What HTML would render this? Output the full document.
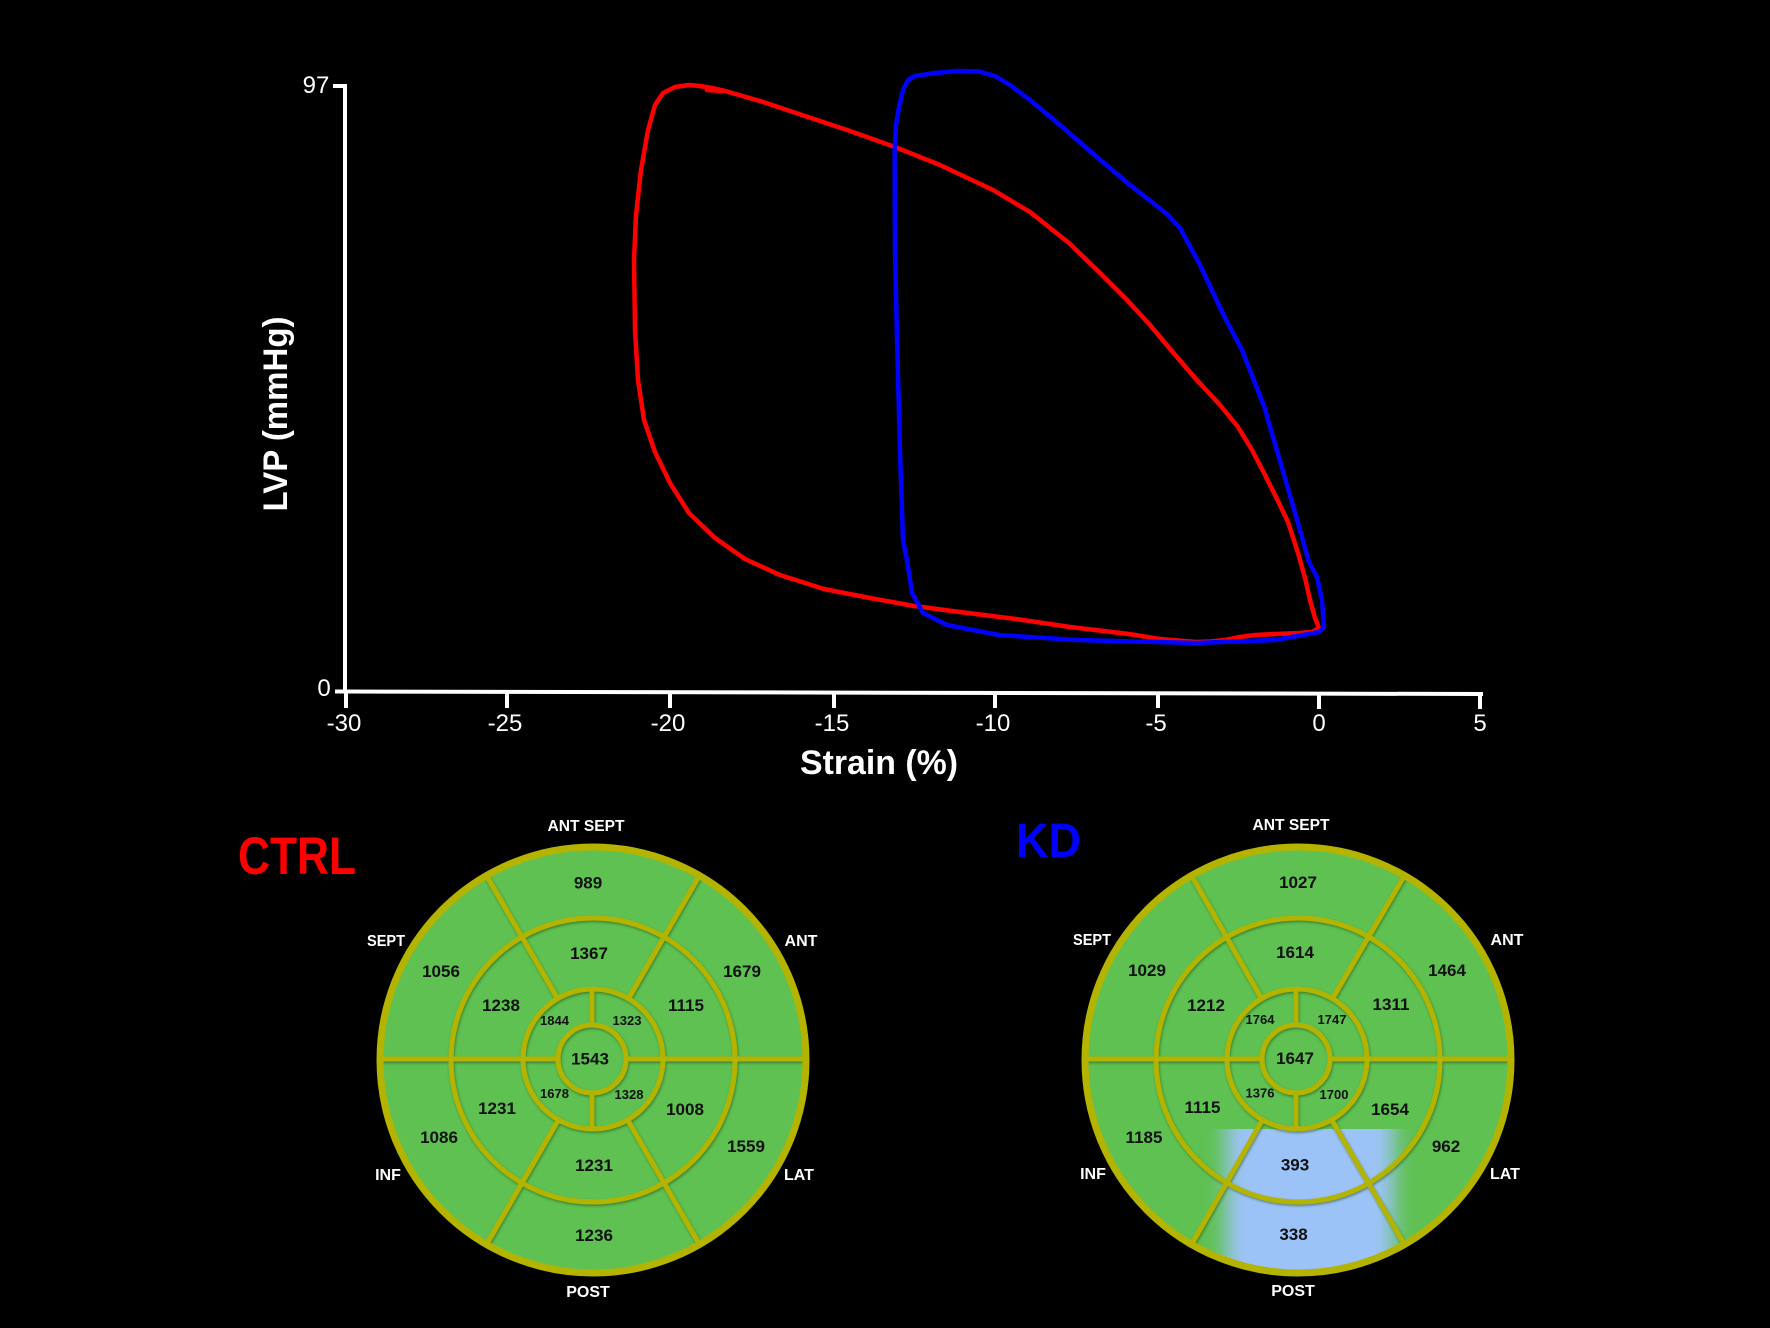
<!DOCTYPE html>
<html>
<head>
<meta charset="utf-8">
<style>
html,body{margin:0;padding:0;background:#000;}
svg{display:block;}
text{font-family:"Liberation Sans",sans-serif;}
</style>
</head>
<body>
<svg width="1770" height="1328" viewBox="0 0 1770 1328" xmlns="http://www.w3.org/2000/svg">
<defs>
  <filter id="blur" x="-30%" y="-30%" width="160%" height="160%">
    <feGaussianBlur stdDeviation="10"/>
  </filter>
  <filter id="sh" x="-5%" y="-5%" width="110%" height="110%">
    <feDropShadow dx="0.8" dy="1.5" stdDeviation="1.2" flood-color="#1d4a10" flood-opacity="0.55"/>
  </filter>
  <clipPath id="kdclip">
    <path d="M1060,1129 L1540,1129 L1540,1300 L1060,1300 Z"/>
  </clipPath>
  <clipPath id="kdcirc">
    <circle cx="1298" cy="1060" r="211"/>
  </clipPath>
</defs>
<rect width="1770" height="1328" fill="#000"/>

<!-- ===== Chart axes ===== -->
<g stroke="#fff" stroke-width="4" fill="none">
  <line x1="345" y1="84" x2="345" y2="693"/>
  <line x1="333" y1="86" x2="347" y2="86"/>
  <line x1="335" y1="691.5" x2="345" y2="691.5"/>
  <line x1="343" y1="691.5" x2="1483" y2="694"/>
  <line x1="346" y1="692" x2="346" y2="708"/>
  <line x1="507" y1="692" x2="507" y2="708"/>
  <line x1="670" y1="692.5" x2="670" y2="708"/>
  <line x1="834" y1="693" x2="834" y2="708"/>
  <line x1="995" y1="693" x2="995" y2="708"/>
  <line x1="1158" y1="693.5" x2="1158" y2="708"/>
  <line x1="1319" y1="694" x2="1319" y2="709"/>
  <line x1="1480" y1="694" x2="1480" y2="709"/>
</g>
<g fill="#fff" font-size="24" text-anchor="middle">
  <text x="316" y="93">97</text>
  <text x="324" y="696">0</text>
  <text x="344" y="731">-30</text>
  <text x="505" y="731">-25</text>
  <text x="668" y="731">-20</text>
  <text x="832" y="731">-15</text>
  <text x="993" y="731">-10</text>
  <text x="1156" y="731">-5</text>
  <text x="1319" y="731">0</text>
  <text x="1480" y="731">5</text>
</g>
<text x="879" y="774" fill="#fff" font-size="34" font-weight="bold" text-anchor="middle" textLength="158" lengthAdjust="spacingAndGlyphs">Strain (%)</text>
<text transform="translate(287,414) rotate(-90)" fill="#fff" font-size="34" font-weight="bold" text-anchor="middle" textLength="195" lengthAdjust="spacingAndGlyphs">LVP (mmHg)</text>

<!-- ===== Curves ===== -->
<path fill="none" stroke="#ff0000" stroke-width="4.5" stroke-linejoin="round" stroke-linecap="round"
 d="M689,85 L700,86 L712,88 L725,91 L760,101 L805,116 L850,131 L895,147 L940,165 L993,190 L1030,212 L1069,243 L1100,273 L1127,300 L1150,325 L1171,350 L1195,378 L1220,405 L1238,427 L1252,450 L1265,475 L1276,497 L1288,522 L1298,553 L1305,578 L1310,600 L1315,618 L1319,628 L1312,632 L1300,633 L1275,634 L1255,635 L1240,637 L1225,640 L1210,641.5 L1196,642 L1160,639 L1129,634 L1070,627 L1016,619 L960,612 L914,606 L870,598 L824,589 L780,575 L745,559 L715,538 L689,513 L670,483 L655,452 L644,420 L638,380 L635,330 L634,260 L636,215 L641,170 L648,130 L655,105 L663,93 L675,87 Z"/>
<path fill="none" stroke="#ff0000" stroke-width="4.5" stroke-linecap="round" d="M707,90 L722,91"/>
<path fill="none" stroke="#0000ff" stroke-width="4.5" stroke-linejoin="round" stroke-linecap="round"
 d="M908,80 L915,76 L935,73 L957,71 L979,71.5 L995,76 L1010,85 L1030,100 L1060,125 L1091,152 L1130,185 L1167,214 L1180,228 L1200,265 L1224,316 L1242,350 L1264,406 L1287,485 L1300,530 L1309,562 L1317,577 L1322,600 L1324,627 L1319,632 L1303,635 L1275,640 L1196,643 L1077,640 L999,635 L947,625 L923,613 L912,593 L907,560 L903,540 L900,451 L897,339 L895,250 L894.6,150 L896,125 L899,107 L903,90 Z"/>

<!-- ===== CTRL bullseye ===== -->
<text x="238" y="874" fill="#ff0000" font-size="53" font-weight="bold" textLength="118" lengthAdjust="spacingAndGlyphs">CTRL</text>
<circle cx="593" cy="1060" r="213" fill="#5ec152"/>
<g stroke="#b4b400" fill="none" filter="url(#sh)">
  <circle cx="593" cy="1060" r="142" stroke-width="5"/>
  <circle cx="593" cy="1059" r="70" stroke-width="5"/>
  <circle cx="592" cy="1059" r="34" stroke-width="5"/>
  <line x1="380" y1="1059" x2="558" y2="1059" stroke-width="5"/>
  <line x1="626" y1="1059" x2="806" y2="1059" stroke-width="5"/>
  <line x1="592" y1="989" x2="592" y2="1025" stroke-width="5"/>
  <line x1="592" y1="1093" x2="592" y2="1129" stroke-width="5"/>
  <line x1="558" y1="999.4" x2="486.5" y2="875.5" stroke-width="5"/>
  <line x1="628" y1="999.4" x2="699.5" y2="875.5" stroke-width="5"/>
  <line x1="558" y1="1120.6" x2="486.5" y2="1244.5" stroke-width="5"/>
  <line x1="628" y1="1120.6" x2="699.5" y2="1244.5" stroke-width="5"/>
</g>
<circle cx="593" cy="1060" r="213" fill="none" stroke="#b4b400" stroke-width="7"/>
<g fill="#111" font-size="17" font-weight="bold" text-anchor="middle">
  <text x="588" y="888.5">989</text>
  <text x="589" y="959">1367</text>
  <text x="441" y="977">1056</text>
  <text x="742" y="977">1679</text>
  <text x="501" y="1011">1238</text>
  <text x="686" y="1011">1115</text>
  <text x="590" y="1064.5">1543</text>
  <text x="497" y="1114">1231</text>
  <text x="685" y="1115">1008</text>
  <text x="439" y="1143">1086</text>
  <text x="746" y="1152">1559</text>
  <text x="594" y="1171">1231</text>
  <text x="594" y="1241">1236</text>
</g>
<g fill="#111" font-size="13" font-weight="bold" text-anchor="middle">
  <text x="554.5" y="1025">1844</text>
  <text x="627" y="1025">1323</text>
  <text x="554.5" y="1098">1678</text>
  <text x="629" y="1099">1328</text>
</g>
<g fill="#fff" font-size="16" font-weight="bold" text-anchor="middle">
  <text x="586" y="831" textLength="77" lengthAdjust="spacingAndGlyphs">ANT SEPT</text>
  <text x="386" y="946" textLength="38" lengthAdjust="spacingAndGlyphs">SEPT</text>
  <text x="801" y="946">ANT</text>
  <text x="388" y="1180">INF</text>
  <text x="799" y="1180">LAT</text>
  <text x="588" y="1297">POST</text>
</g>

<!-- ===== KD bullseye ===== -->
<text x="1016" y="857" fill="#0000ff" font-size="48" font-weight="bold" textLength="65" lengthAdjust="spacingAndGlyphs">KD</text>
<circle cx="1298" cy="1060" r="213" fill="#5ec152"/>
<g clip-path="url(#kdcirc)">
  <g clip-path="url(#kdclip)">
    <rect x="1226" y="1095" width="168" height="220" fill="#9cc3f7" filter="url(#blur)"/>
  </g>
</g>
<g stroke="#b4b400" fill="none" filter="url(#sh)">
  <circle cx="1298" cy="1060" r="142" stroke-width="5"/>
  <circle cx="1297" cy="1059" r="70" stroke-width="5"/>
  <circle cx="1296" cy="1059" r="34" stroke-width="5"/>
  <line x1="1085" y1="1059" x2="1262" y2="1059" stroke-width="5"/>
  <line x1="1330" y1="1059" x2="1511" y2="1059" stroke-width="5"/>
  <line x1="1296" y1="989" x2="1296" y2="1025" stroke-width="5"/>
  <line x1="1296" y1="1093" x2="1296" y2="1129" stroke-width="5"/>
  <line x1="1262" y1="999.4" x2="1191.5" y2="875.5" stroke-width="5"/>
  <line x1="1332" y1="999.4" x2="1404.5" y2="875.5" stroke-width="5"/>
  <line x1="1262" y1="1120.6" x2="1191.5" y2="1244.5" stroke-width="5"/>
  <line x1="1332" y1="1120.6" x2="1404.5" y2="1244.5" stroke-width="5"/>
</g>
<circle cx="1298" cy="1060" r="213" fill="none" stroke="#b4b400" stroke-width="7"/>
<g fill="#111" font-size="17" font-weight="bold" text-anchor="middle">
  <text x="1298" y="888">1027</text>
  <text x="1295" y="958">1614</text>
  <text x="1147" y="976">1029</text>
  <text x="1447" y="976">1464</text>
  <text x="1206" y="1011">1212</text>
  <text x="1391" y="1010">1311</text>
  <text x="1295" y="1064">1647</text>
  <text x="1202.5" y="1113">1115</text>
  <text x="1390" y="1115">1654</text>
  <text x="1144" y="1143">1185</text>
  <text x="1446" y="1152">962</text>
  <text x="1295" y="1170.5">393</text>
  <text x="1293.5" y="1240">338</text>
</g>
<g fill="#111" font-size="13" font-weight="bold" text-anchor="middle">
  <text x="1260" y="1024">1764</text>
  <text x="1332" y="1024">1747</text>
  <text x="1260" y="1097.5">1376</text>
  <text x="1334" y="1099">1700</text>
</g>
<g fill="#fff" font-size="16" font-weight="bold" text-anchor="middle">
  <text x="1291" y="830" textLength="77" lengthAdjust="spacingAndGlyphs">ANT SEPT</text>
  <text x="1092" y="945" textLength="38" lengthAdjust="spacingAndGlyphs">SEPT</text>
  <text x="1507" y="945">ANT</text>
  <text x="1093" y="1179">INF</text>
  <text x="1505" y="1179">LAT</text>
  <text x="1293" y="1296">POST</text>
</g>
</svg>
</body>
</html>
